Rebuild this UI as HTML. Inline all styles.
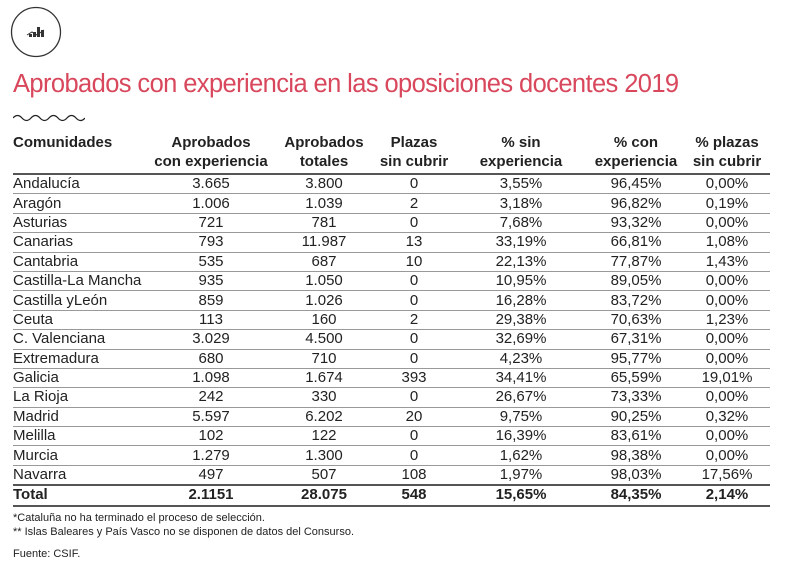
<!DOCTYPE html><html><head><meta charset="utf-8"><style>
body{margin:0;width:800px;height:574px;background:#fff;font-family:"Liberation Sans",sans-serif;color:#222;position:relative;overflow:hidden}
.a{position:absolute}
.t{left:13px;top:70px;font-size:25.5px;color:#d8475c;letter-spacing:-0.6px;white-space:nowrap}
table{position:absolute;left:13px;top:133px;width:757px;border-collapse:collapse;font-size:15px}
th{font-weight:bold;text-align:center;line-height:19px;padding:0;vertical-align:top;height:40px}
td{text-align:center;height:18.4px;padding:0;border-top:1px solid #999;line-height:18px}
td:first-child,th:first-child{text-align:left}
tr.h th{border-bottom:2px solid #555}
tr.tot td{font-weight:bold;border-top:2px solid #555;border-bottom:2px solid #555}
.n{font-size:11px;left:13px;line-height:14px}
</style></head><body>
<svg class="a" style="left:10px;top:6px" width="56" height="52"><circle cx="26" cy="26" r="24.5" fill="none" stroke="#333" stroke-width="1.3"/><g fill="#333"><rect x="27" y="21" width="3" height="10"/><rect x="31" y="24" width="3" height="7"/><rect x="23" y="26" width="3" height="5"/><rect x="19" y="28" width="3" height="3"/></g><path d="M17 29 L22 26 L27 29 L34 24" stroke="#333" fill="none"/></svg>
<div class="a t">Aprobados con experiencia en las oposiciones docentes 2019</div>
<svg class="a" style="left:13px;top:113px" width="72" height="10"><path d="M0 5 q4.5 -5 9 0 t9 0 t9 0 t9 0 t9 0 t9 0 t9 0 t9 0" fill="none" stroke="#222" stroke-width="1.3"/></svg>
<table>
<colgroup><col style="width:135px"><col style="width:126px"><col style="width:100px"><col style="width:80px"><col style="width:134px"><col style="width:96px"><col></colgroup>
<tr class="h"><th>Comunidades</th><th>Aprobados<br>con experiencia</th><th>Aprobados<br>totales</th><th>Plazas<br>sin cubrir</th><th>% sin<br>experiencia</th><th>% con<br>experiencia</th><th>% plazas<br>sin cubrir</th></tr>
<tr><td style="border-top:0">Andalucía</td><td style="border-top:0">3.665</td><td style="border-top:0">3.800</td><td style="border-top:0">0</td><td style="border-top:0">3,55%</td><td style="border-top:0">96,45%</td><td style="border-top:0">0,00%</td></tr>
<tr><td>Aragón</td><td>1.006</td><td>1.039</td><td>2</td><td>3,18%</td><td>96,82%</td><td>0,19%</td></tr>
<tr><td>Asturias</td><td>721</td><td>781</td><td>0</td><td>7,68%</td><td>93,32%</td><td>0,00%</td></tr>
<tr><td>Canarias</td><td>793</td><td>11.987</td><td>13</td><td>33,19%</td><td>66,81%</td><td>1,08%</td></tr>
<tr><td>Cantabria</td><td>535</td><td>687</td><td>10</td><td>22,13%</td><td>77,87%</td><td>1,43%</td></tr>
<tr><td>Castilla-La Mancha</td><td>935</td><td>1.050</td><td>0</td><td>10,95%</td><td>89,05%</td><td>0,00%</td></tr>
<tr><td>Castilla yLeón</td><td>859</td><td>1.026</td><td>0</td><td>16,28%</td><td>83,72%</td><td>0,00%</td></tr>
<tr><td>Ceuta</td><td>113</td><td>160</td><td>2</td><td>29,38%</td><td>70,63%</td><td>1,23%</td></tr>
<tr><td>C. Valenciana</td><td>3.029</td><td>4.500</td><td>0</td><td>32,69%</td><td>67,31%</td><td>0,00%</td></tr>
<tr><td>Extremadura</td><td>680</td><td>710</td><td>0</td><td>4,23%</td><td>95,77%</td><td>0,00%</td></tr>
<tr><td>Galicia</td><td>1.098</td><td>1.674</td><td>393</td><td>34,41%</td><td>65,59%</td><td>19,01%</td></tr>
<tr><td>La Rioja</td><td>242</td><td>330</td><td>0</td><td>26,67%</td><td>73,33%</td><td>0,00%</td></tr>
<tr><td>Madrid</td><td>5.597</td><td>6.202</td><td>20</td><td>9,75%</td><td>90,25%</td><td>0,32%</td></tr>
<tr><td>Melilla</td><td>102</td><td>122</td><td>0</td><td>16,39%</td><td>83,61%</td><td>0,00%</td></tr>
<tr><td>Murcia</td><td>1.279</td><td>1.300</td><td>0</td><td>1,62%</td><td>98,38%</td><td>0,00%</td></tr>
<tr><td>Navarra</td><td>497</td><td>507</td><td>108</td><td>1,97%</td><td>98,03%</td><td>17,56%</td></tr>
<tr class="tot"><td>Total</td><td>2.1151</td><td>28.075</td><td>548</td><td>15,65%</td><td>84,35%</td><td>2,14%</td></tr>
</table>
<div class="a n" style="top:511px">*Cataluña no ha terminado el proceso de selección.<br>** Islas Baleares y País Vasco no se disponen de datos del Consurso.</div>
<div class="a n" style="top:547px">Fuente: CSIF.</div>
</body></html>
